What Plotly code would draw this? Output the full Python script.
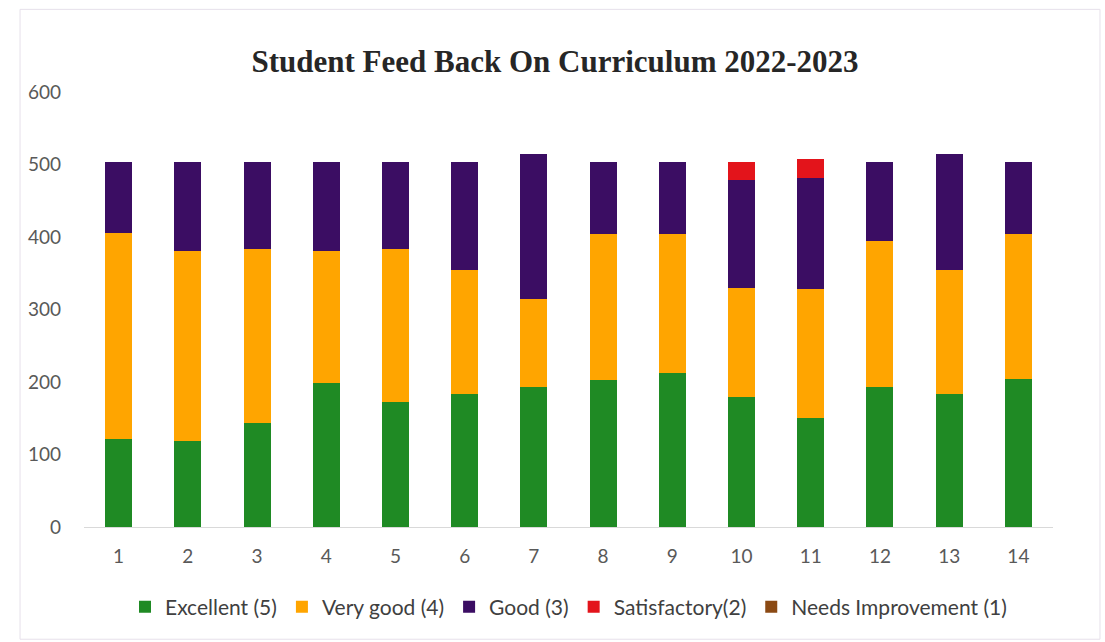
import plotly.graph_objects as go

categories = [str(i) for i in range(1, 15)]
excellent = [122, 119, 143, 199, 173, 183, 193, 203, 213, 179, 150, 193, 184, 204]
very_good = [283, 262, 241, 182, 211, 171, 121, 201, 191, 150, 178, 201, 170, 200]
good = [98, 122, 119, 122, 119, 150, 200, 100, 100, 149, 153, 110, 160, 100]
satisfactory = [0, 0, 0, 0, 0, 0, 0, 0, 0, 26, 26, 0, 0, 0]
needs_improvement = [0] * 14

series_names = ["Excellent (5)", "Very good (4)", "Good (3)", "Satisfactory(2)", "Needs Improvement (1)"]
series_values = [excellent, very_good, good, satisfactory, needs_improvement]
series_colors = ["#1f8a24", "#ffa500", "#3b0d63", "#e3141b", "#8b4a14"]

fig = go.Figure()
for name, vals, col in zip(series_names, series_values, series_colors):
    fig.add_trace(go.Bar(x=categories, y=vals, name=name, marker_color=col,
                         marker_line_width=0, width=0.39))

fig.update_layout(
    barmode="stack",
    width=1105, height=642,
    paper_bgcolor="white", plot_bgcolor="white",
    margin=dict(l=84, r=52, t=92, b=115),
    title=dict(text="<b>Student Feed Back On Curriculum 2022-2023</b>",
               x=555 / 1105, xref="container", xanchor="center",
               y=1 - 61 / 642, yref="container", yanchor="middle",
               font=dict(family="Liberation Serif", size=31, color="#262626")),
    legend=dict(orientation="h", x=0.5, xanchor="center",
                y=-0.184, yanchor="middle",
                font=dict(family="Lato", size=21, color="#404040"),
                traceorder="normal", itemwidth=30),
    font=dict(family="Lato", size=19, color="#595959"),
    bargap=0.6,
)
fig.update_xaxes(type="category", showgrid=False, showline=True, linecolor="#d9d9d9",
                 linewidth=1, ticks="", ticklabelstandoff=12,
                 tickfont=dict(family="Lato", size=19, color="#595959"))
fig.update_yaxes(range=[0, 600], dtick=100, showgrid=False, zeroline=False, showline=False,
                 ticklabelstandoff=22, tickfont=dict(family="Lato", size=19, color="#595959"))

fig.add_shape(type="rect", xref="paper", yref="paper", x0=-0.066, x1=1.0485, y0=-0.258, y1=1.19,
              line=dict(color="#e6e0ea", width=1), fillcolor="rgba(0,0,0,0)", layer="below")

fig.write_html("out.html", config={"displayModeBar": False},
               post_script="document.body.style.margin='0';")
